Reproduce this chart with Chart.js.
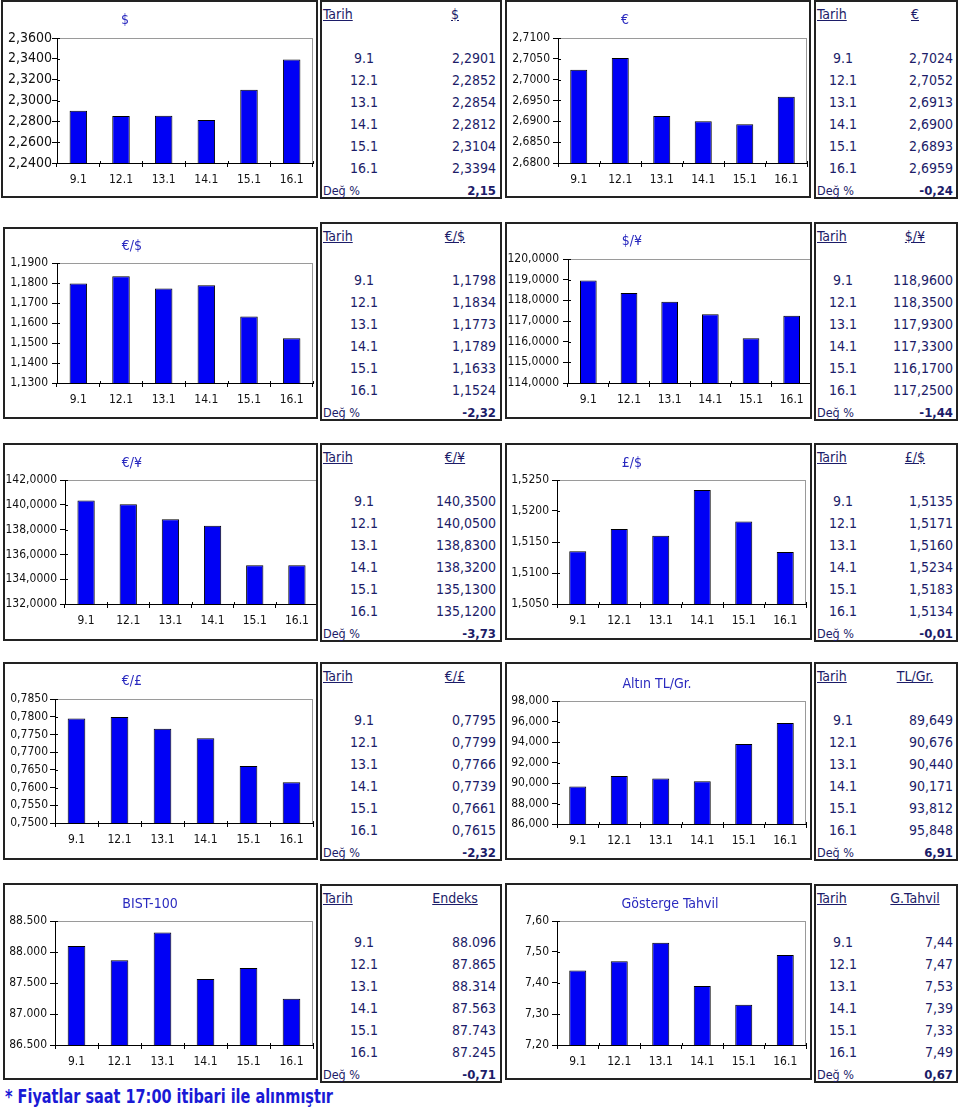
<!DOCTYPE html>
<html><head><meta charset="utf-8">
<script src="https://cdn.jsdelivr.net/npm/chart.js@4.4.1/dist/chart.umd.min.js"></script>
<style>
html,body{margin:0;padding:0;background:#fff;}
body{width:960px;height:1111px;position:relative;overflow:hidden;font-family:'DejaVu Sans Condensed','DejaVu Sans',sans-serif;}
.box{position:absolute;box-sizing:border-box;border:2px solid #222;z-index:2;pointer-events:none;}
canvas{position:absolute;z-index:1;}
.ttl{position:absolute;transform:translate(-50%,-50%);color:#2a2abf;font-size:14px;white-space:nowrap;z-index:3;}
.tbl{position:absolute;box-sizing:border-box;border:2px solid #222;color:#1c1c68;font-size:14px;}
.tbl div{position:absolute;white-space:nowrap;line-height:16px;height:16px;}
.u{text-decoration:underline;}
.c{transform:translateX(-50%);}
.deg{font-size:12.5px;}
.dv{font-weight:bold;font-size:13px;}
#foot{position:absolute;left:5px;top:1085px;font-weight:bold;font-size:19px;line-height:22px;color:#1a1ad6;white-space:nowrap;transform-origin:0 0;}
</style></head><body>
<div id="foot">* Fiyatlar saat 17:00 itibari ile alınmıştır</div>
<script>
// ---- data ----
const dates = ['9.1','12.1','13.1','14.1','15.1','16.1'];
const usd    = [2.2901, 2.2852, 2.2854, 2.2812, 2.3104, 2.3394];
const eur    = [2.7024, 2.7052, 2.6913, 2.6900, 2.6893, 2.6959];
const eurUsd = [1.1798, 1.1834, 1.1773, 1.1789, 1.1633, 1.1524];
const usdJpy = [118.96, 118.35, 117.93, 117.33, 116.17, 117.25];
const eurJpy = [140.35, 140.05, 138.83, 138.32, 135.13, 135.12];
const gbpUsd = [1.5135, 1.5171, 1.5160, 1.5234, 1.5183, 1.5134];
const eurGbp = [0.7795, 0.7799, 0.7766, 0.7739, 0.7661, 0.7615];
const gold   = [89.649, 90.676, 90.440, 90.171, 93.812, 95.848];
const bist   = [88096, 87865, 88314, 87563, 87743, 87245];
const bond   = [7.44, 7.47, 7.53, 7.39, 7.33, 7.49];
const changes = [2.15, -0.24, -2.32, -1.44, -3.73, -0.01, -2.32, 6.91, -0.71, 0.67];
const titles  = ['$','€','€/$','$/¥','€/¥','£/$','€/£','Altın TL/Gr.','BIST-100','Gösterge Tahvil'];
const headers = ['$','€','€/$','$/¥','€/¥','£/$','€/£','TL/Gr.','Endeks','G.Tahvil'];
// y axis [min, max, step]
const usdAxis    = [2.24, 2.36, 0.02];
const eurAxis    = [2.68, 2.71, 0.005];
const eurUsdAxis = [1.13, 1.19, 0.01];
const usdJpyAxis = [114, 120, 1];
const eurJpyAxis = [132, 142, 2];
const gbpUsdAxis = [1.505, 1.525, 0.005];
const eurGbpAxis = [0.75, 0.785, 0.005];
const goldAxis   = [86, 98, 2];
const bistAxis   = [86500, 88500, 500];
const bondAxis   = [7.2, 7.6, 0.1];

function fmt(v, dec){
  if (dec === 'k') return Math.round(v).toString().replace(/\B(?=(\d{3})+(?!\d))/g,'.');
  return v.toFixed(dec).replace('.', ',');
}

const FAM = "'DejaVu Sans Condensed','DejaVu Sans',sans-serif";
// layout/style
const specs = [
 {data:usd,    axis:usdAxis,    yd:4, td:4, box:[1,0,318,198],     plot:[57,38,313,163],   title:[125,19],  yf:14, yp:0},
 {data:eur,    axis:eurAxis,    yd:4, td:4, box:[505,0,811,198],   plot:[558,38,807,163],  title:[625,19],  yf:12, yp:3},
 {data:eurUsd, axis:eurUsdAxis, yd:4, td:4, box:[3,227,318,419],   plot:[57,263,313,383],  title:[132,245], yf:12, yp:4},
 {data:usdJpy, axis:usdJpyAxis, yd:4, td:4, box:[505,222,812,419], plot:[568,259,812,383], title:[632,240], yf:12, yp:4},
 {data:eurJpy, axis:eurJpyAxis, yd:4, td:4, box:[3,443,318,641],   plot:[65,480,318,604],  title:[132,462], yf:12, yp:3},
 {data:gbpUsd, axis:gbpUsdAxis, yd:4, td:4, box:[505,443,812,640], plot:[557,480,806,604], title:[632,462], yf:12, yp:3},
 {data:eurGbp, axis:eurGbpAxis, yd:4, td:4, box:[3,662,318,860],   plot:[55,699,313,823],  title:[132,680], yf:12, yp:2},
 {data:gold,   axis:goldAxis,   yd:3, td:3, box:[505,662,812,860], plot:[557,701,806,824], title:[657,683], yf:12, yp:3},
 {data:bist,   axis:bistAxis,   yd:'k', td:'k', box:[3,883,318,1080], plot:[55,921,313,1045], title:[150,903], yf:12, yp:3},
 {data:bond,   axis:bondAxis,   yd:2, td:2, box:[505,883,812,1080], plot:[557,921,806,1045], title:[670,903], yf:12, yp:3}
];
const tableTops = [0,222,443,662,884];

const framePlugin = {
  id:'frame',
  beforeDraw(chart){
    const a = chart.chartArea, ctx = chart.ctx;
    ctx.save();
    ctx.strokeStyle = '#9a9a9a'; ctx.lineWidth = 1;
    ctx.strokeRect(Math.round(a.left)+0.5, Math.round(a.top)+0.5, Math.round(a.right-a.left)-1, Math.round(a.bottom-a.top));
    ctx.restore();
  },
  afterDraw(chart){
    const a = chart.chartArea, ctx = chart.ctx;
    const ys = chart.scales.y, xs = chart.scales.x;
    ctx.save();
    ctx.strokeStyle = '#000'; ctx.lineWidth = 1;
    ctx.beginPath();
    ys.ticks.forEach((t,i)=>{
      const y = Math.round(ys.getPixelForTick(i))+0.5;
      ctx.moveTo(a.left, y); ctx.lineTo(a.left+3, y);
    });
    for (let i=0;i<=xs.ticks.length;i++){
      const x = Math.round(xs.getPixelForValue(i-0.5))+0.5;
      ctx.moveTo(x, a.bottom); ctx.lineTo(x, a.bottom-2);
    }
    ctx.stroke();
    ctx.restore();
  }
};

specs.forEach((s,k)=>{
  const [bx1,by1,bx2,by2] = s.box;
  const [pl,pt,pr,pb] = s.plot;
  const W = bx2-bx1, H = by2-by1;
  const cv = document.createElement('canvas');
  cv.width = W; cv.height = H;
  cv.style.left = bx1+'px'; cv.style.top = by1+'px';
  cv.style.width = W+'px'; cv.style.height = H+'px';
  document.body.appendChild(cv);
  const bd = document.createElement('div');
  bd.className = 'box';
  Object.assign(bd.style,{left:bx1+'px',top:by1+'px',width:W+'px',height:H+'px'});
  document.body.appendChild(bd);
  const tt = document.createElement('div');
  tt.className = 'ttl'; tt.textContent = titles[k];
  tt.style.left = s.title[0]+'px'; tt.style.top = s.title[1]+'px';
  document.body.appendChild(tt);

  const yw = pl-bx1, xh = by2-pb;
  new Chart(cv,{
    type:'bar',
    data:{labels:dates, datasets:[{data:s.data, backgroundColor:'#0000f5', borderColor:'#000', borderWidth:1, borderSkipped:'bottom', barPercentage:0.41, categoryPercentage:1}]},
    options:{
      responsive:false, animation:false, devicePixelRatio:1,
      layout:{padding:{left:0, top:pt-by1, right:bx2-pr, bottom:0}},
      plugins:{legend:{display:false}, tooltip:{enabled:false}, title:{display:false}},
      scales:{
        x:{
          grid:{offset:true, drawOnChartArea:false, drawTicks:true, tickLength:4, color:'#000', lineWidth:1},
          border:{display:true, color:'#000', width:1},
          ticks:{color:'#111', font:{family:FAM, size:12}, padding:6, maxRotation:0, autoSkip:false},
          afterFit:(sc)=>{sc.height = xh;}
        },
        y:{
          min:s.axis[0], max:s.axis[1],
          grid:{drawOnChartArea:false, drawTicks:true, tickLength:5, color:'#000', lineWidth:1},
          border:{display:true, color:'#000', width:1},
          ticks:{stepSize:s.axis[2], color:'#111', font:{family:FAM, size:s.yf}, padding:s.yp, callback:(v)=>fmt(v, s.yd)},
          afterFit:(sc)=>{sc.width = yw;}
        }
      }
    },
    plugins:[framePlugin]
  });

  // table
  const left = (k%2===0);
  const tx = left ? 320 : 814, tw = left ? 182 : 144;
  const ty = tableTops[Math.floor(k/2)], th = 199;
  const tb = document.createElement('div');
  tb.className = 'tbl';
  Object.assign(tb.style,{left:tx+'px',top:ty+'px',width:tw+'px',height:th+'px'});
  const add = (txt, cls, css)=>{ const d=document.createElement('div'); d.className=cls; d.textContent=txt; Object.assign(d.style,css); tb.appendChild(d); return d; };
  const o = 2; // border offset
  add('Tarih','u',{left:(3-o)+'px', top:(14-8-o)+'px'});
  add(headers[k],'u c',{left:((left?135:101)-o)+'px', top:(14-8-o)+'px'});
  dates.forEach((d,i)=>{
    const cy = 58+22*i;
    add(d,'c',{left:((left?44:29)-o)+'px', top:(cy-8-o)+'px'});
    add(fmt(s.data[i], s.td),'',{right:((left?6:5)-o)+'px', top:(cy-8-o)+'px'});
  });
  add('Değ %','deg',{left:(3-o)+'px', top:(191-8-o)+'px'});
  add(fmt(changes[k],2),'dv',{right:((left?6:5)-o)+'px', top:(191-8-o)+'px'});
  document.body.appendChild(tb);
});

const f = document.getElementById('foot');
const fw = f.getBoundingClientRect().width;
f.style.transform = 'scaleX(' + (328/fw) + ')';
</script>
</body></html>
